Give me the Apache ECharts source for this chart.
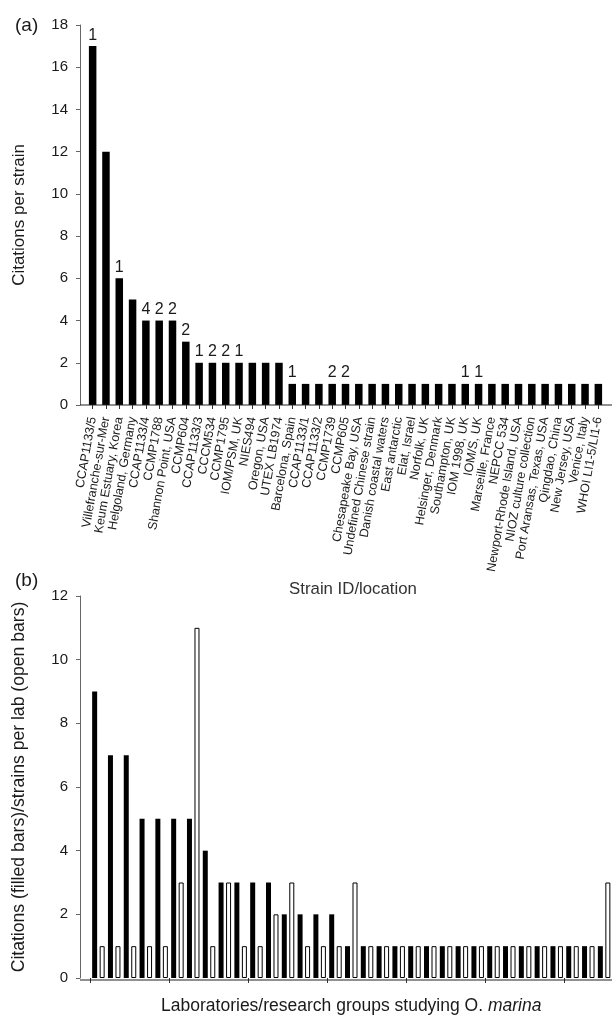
<!DOCTYPE html>
<html>
<head>
<meta charset="utf-8">
<script src="https://cdn.jsdelivr.net/npm/echarts@6/dist/echarts.min.js"></script>
<style>
html,body{margin:0;padding:0;background:#fff;}
#chart{width:612px;height:1016px;}
</style>
</head>
<body>
<div id="chart"></div>
<script>
// ---- Panel (a) data ----
const strains = [
  'CCAP1133/5','Villefranche-sur-Mer','Keum Estuary, Korea','Helgoland, Germany','CCAP1133/4',
  'CCMP1788','Shannon Point, USA','CCMP604','CCAP1133/3','CCCM534','CCMP1795','IOM/PSM, UK',
  'NIES494','Oregon, USA','UTEX LB1974','Barcelona, Spain','CCAP1133/1','CCAP1133/2','CCMP1739',
  'CCMP605','Chesapeake Bay, USA','Undefined Chinese strain','Danish coastal waters','East antarctic',
  'Elat, Israel','Norfolk, UK','Helsinger, Denmark','Southampton, UK','IOM 1998, UK','IOM/S, UK',
  'Marseille, France','NEPCC 534','Newport-Rhode Island, USA','NIOZ culture collection',
  'Port Aransas, Texas, USA','Qingdao, China','New Jersey, USA','Venice, Italy','WHOI LI1-5/LI1-6'
];
const citationsPerStrain = [17,12,6,5,4,4,4,3,2,2,2,2,2,2,2,1,1,1,1,1,1,1,1,1,1,1,1,1,1,1,1,1,1,1,1,1,1,1,1];
const strainNotes = ['1','','1','','4','2','2','2','1','2','2','1','','','','1','','','2','2','','','','','','','','','1','1','','','','','','','','',''];
const yTicksA = [0,2,4,6,8,10,12,14,16,18];

// ---- Panel (b) data ----
const labs = ['1','2','3','4','5','6','7','8','9','10','11','12','13','14','15','16','17','18','19','20','21','22','23','24','25','26','27','28','29','30','31','32','33'];
const citationsPerLab = [9,7,7,5,5,5,5,4,3,3,3,3,2,2,2,2,1,1,1,1,1,1,1,1,1,1,1,1,1,1,1,1,1];
const strainsPerLab  = [1,1,1,1,1,3,11,1,3,1,1,2,3,1,1,1,3,1,1,1,1,1,1,1,1,1,1,1,1,1,1,1,3];
const yTicksB = [0,2,4,6,8,10,12];

const FONT = '"Liberation Sans", Arial, sans-serif';
const TXT = '#1a1a1a';

// layout
const A = {left: 86, top: 25, width: 519, height: 380, axisX: 80};
const B = {left: 90.5, top: 596, width: 524.7, height: 384, axisX: 80};

const chart = echarts.init(document.getElementById('chart'), null, {renderer: 'canvas'});

const option = {
  animation: false,
  backgroundColor: '#fff',
  textStyle: {fontFamily: FONT, color: TXT},
  title: [
    {text: '(a)', left: 10, top: 11, textStyle: {fontFamily: FONT, fontSize: 19, fontWeight: 'normal', color: TXT}},
    {text: '(b)', left: 10, top: 566, textStyle: {fontFamily: FONT, fontSize: 19, fontWeight: 'normal', color: TXT}}
  ],
  grid: [
    {left: A.left, top: A.top, width: A.width, height: A.height},
    {left: B.left, top: B.top, width: B.width, height: B.height}
  ],
  xAxis: [
    {
      type: 'category', gridIndex: 0, data: strains,
      axisLine: {show: false},
      axisTick: {show: true, alignWithLabel: true, length: 4, lineStyle: {color: '#333'}},
      axisLabel: {interval: 0, rotate: 80, margin: 12, fontSize: 12.5, fontFamily: FONT, color: TXT},
      name: 'Strain ID/location', nameLocation: 'middle', nameGap: 176,
      nameTextStyle: {fontFamily: FONT, fontSize: 16.8, color: '#333', padding: [0,0,0,15]}
    },
    {
      type: 'category', gridIndex: 1, data: labs,
      axisLine: {show: false},
      axisTick: {show: true, interval: 4, length: 5, lineStyle: {color: '#333'}},
      axisLabel: {show: false},
      name: '{r|Laboratories/research groups studying O. }{i|marina}', nameLocation: 'middle', nameGap: 19,
      nameTextStyle: {
        fontFamily: FONT, fontSize: 17.5, color: TXT,
        rich: {
          r: {fontFamily: FONT, fontSize: 17.5, color: TXT},
          i: {fontFamily: FONT, fontSize: 17.5, color: TXT, fontStyle: 'italic'}
        }
      }
    }
  ],
  yAxis: [
    {
      type: 'value', gridIndex: 0, min: yTicksA[0], max: yTicksA[yTicksA.length-1], interval: 2,
      offset: A.left - A.axisX,
      splitLine: {show: false},
      axisLine: {show: true, lineStyle: {color: '#666', width: 1}},
      axisTick: {show: true, length: 4, lineStyle: {color: '#666'}},
      axisLabel: {fontSize: 15, fontFamily: FONT, color: TXT, margin: 12},
      name: 'Citations per strain', nameLocation: 'middle', nameGap: 52,
      nameTextStyle: {fontFamily: FONT, fontSize: 17, color: TXT}
    },
    {
      type: 'value', gridIndex: 1, min: yTicksB[0], max: yTicksB[yTicksB.length-1], interval: 2,
      offset: B.left - B.axisX,
      splitLine: {show: false},
      axisLine: {show: true, lineStyle: {color: '#666', width: 1}},
      axisTick: {show: true, length: 4, lineStyle: {color: '#666'}},
      axisLabel: {fontSize: 15, fontFamily: FONT, color: TXT, margin: 12},
      name: 'Citations (filled bars)/strains per lab (open bars)', nameLocation: 'middle', nameGap: 52,
      nameTextStyle: {fontFamily: FONT, fontSize: 17.6, color: TXT}
    }
  ],
  graphic: [
    {type: 'line', shape: {x1: A.axisX, y1: A.top + A.height, x2: 612, y2: A.top + A.height}, style: {stroke: '#222', lineWidth: 1.2}, z: 10},
    {type: 'line', shape: {x1: B.axisX, y1: B.top + B.height, x2: 612, y2: B.top + B.height}, style: {stroke: '#222', lineWidth: 1.2}, z: 10}
  ],
  series: [
    {
      type: 'bar', xAxisIndex: 0, yAxisIndex: 0, data: citationsPerStrain,
      barWidth: 7.5,
      itemStyle: {color: '#000'},
      label: {
        show: true, position: 'top', distance: 3,
        fontFamily: FONT, fontSize: 16, color: TXT,
        formatter: p => strainNotes[p.dataIndex]
      }
    },
    {
      type: 'bar', xAxisIndex: 1, yAxisIndex: 1, data: citationsPerLab,
      barWidth: 5, barGap: '50%',
      itemStyle: {color: '#000'}
    },
    {
      type: 'bar', xAxisIndex: 1, yAxisIndex: 1, data: strainsPerLab,
      barWidth: 5, barGap: '50%',
      itemStyle: {color: '#fff', borderColor: '#000', borderWidth: 1}
    }
  ]
};
chart.setOption(option);
</script>
</body>
</html>
